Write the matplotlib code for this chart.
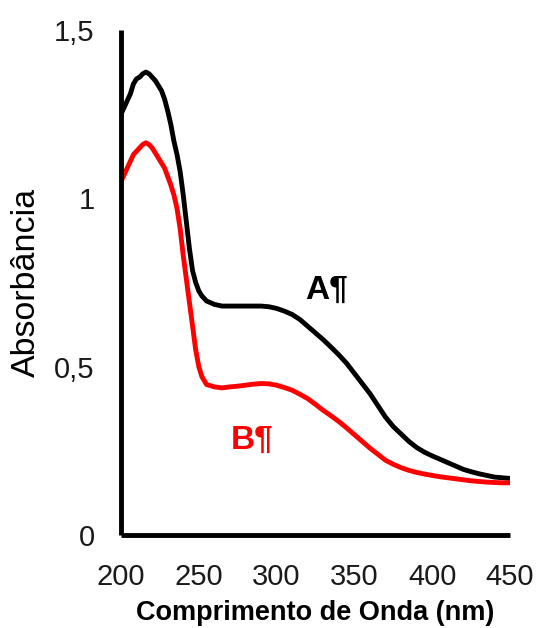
import matplotlib
matplotlib.use("Agg")
import matplotlib.pyplot as plt

plt.rcParams['font.family'] = ['Liberation Sans', 'DejaVu Sans']

wavelength = [200, 202, 204, 206, 208, 210, 212, 214, 216, 218, 220, 222, 224, 226, 228,
              230, 232, 234, 236, 238, 240, 242, 244, 246, 248, 250, 252, 255, 260, 265,
              270, 275, 280, 285, 290, 295, 300, 305, 310, 315, 320, 325, 330, 335, 340,
              345, 350, 355, 360, 365, 370, 375, 380, 385, 390, 395, 400, 405, 410, 415,
              420, 425, 430, 435, 440, 445, 450]

abs_A = [1.25, 1.27, 1.29, 1.31, 1.34, 1.355, 1.36, 1.37, 1.375, 1.37, 1.36, 1.35, 1.335, 1.32, 1.295,
         1.26, 1.22, 1.17, 1.13, 1.08, 1.01, 0.93, 0.85, 0.785, 0.75, 0.725, 0.71, 0.695, 0.685, 0.68,
         0.68, 0.68, 0.68, 0.68, 0.68, 0.678, 0.673, 0.665, 0.655, 0.64, 0.62, 0.60, 0.58, 0.558, 0.535,
         0.51, 0.48, 0.45, 0.42, 0.385, 0.35, 0.322, 0.30, 0.278, 0.26, 0.246, 0.235, 0.225, 0.215, 0.205,
         0.195, 0.188, 0.182, 0.177, 0.172, 0.17, 0.168]

abs_B = [1.05, 1.07, 1.09, 1.11, 1.13, 1.14, 1.15, 1.16, 1.165, 1.16, 1.15, 1.135, 1.12, 1.105, 1.09,
         1.065, 1.04, 1.01, 0.97, 0.91, 0.83, 0.76, 0.69, 0.62, 0.55, 0.50, 0.47, 0.447, 0.44, 0.437,
         0.44, 0.442, 0.445, 0.448, 0.45, 0.449, 0.445, 0.438, 0.43, 0.418, 0.405, 0.388, 0.37, 0.354, 0.337,
         0.318, 0.298, 0.278, 0.258, 0.24, 0.222, 0.21, 0.20, 0.192, 0.186, 0.181, 0.177, 0.173, 0.17, 0.167,
         0.164, 0.161, 0.159, 0.157, 0.156, 0.155, 0.155]

x_ticks = [200, 250, 300, 350, 400, 450]
y_ticks = [0, 0.5, 1, 1.5]
y_tick_labels = ["0", "0,5", "1", "1,5"]

fig = plt.figure(figsize=(5.36, 6.28), dpi=100)
ax = fig.add_axes([121/536, 1 - 535/628, (510 - 121)/536, (535 - 30)/628])

ax.plot(wavelength, abs_A, color='black', lw=3.5, solid_capstyle='butt', solid_joinstyle='round')
ax.plot(wavelength, abs_B, color='#ff0000', lw=3.5, solid_capstyle='butt', solid_joinstyle='round')

ax.set_xlim(200, 450)
ax.set_ylim(0, 1.5)
ax.set_xticks(x_ticks)
ax.set_xticklabels([str(v) for v in x_ticks])
ax.set_yticks(y_ticks)
ax.set_yticklabels(y_tick_labels)
ax.tick_params(axis='both', length=0, labelsize=21, colors='#1a1a1a')
ax.tick_params(axis='y', pad=19)
ax.tick_params(axis='x', pad=20)

for s in ['top', 'right']:
    ax.spines[s].set_visible(False)
for s in ['left', 'bottom']:
    ax.spines[s].set_linewidth(3.5)
    ax.spines[s].set_color('black')
    ax.spines[s].set_capstyle('butt')

ax.set_xlabel("Comprimento de Onda (nm)", fontsize=19.5, fontweight='bold', labelpad=7)
ax.set_ylabel("Absorbância", fontsize=24.5, labelpad=9)

ax.text(332, 0.728, "A¶", fontsize=24, fontweight='bold', color='black', ha='center', va='center')
ax.text(284, 0.282, "B¶", fontsize=24, fontweight='bold', color='#ff0000', ha='center', va='center')

fig.savefig("out.png", dpi=100)
